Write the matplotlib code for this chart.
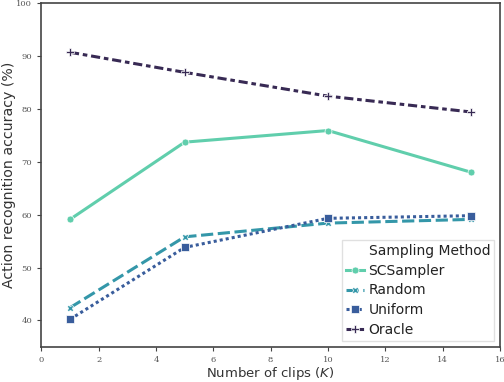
import matplotlib
matplotlib.use('Agg')
import matplotlib.pyplot as plt
from matplotlib.lines import Line2D
import seaborn as sns

clips = [1, 5, 10, 15]
methods = ['SCSampler', 'Random', 'Uniform', 'Oracle']
acc = {
    'SCSampler': [59.1, 73.7, 75.9, 68.0],
    'Random': [42.4, 55.8, 58.4, 59.1],
    'Uniform': [40.2, 53.8, 59.3, 59.8],
    'Oracle': [90.7, 86.9, 82.4, 79.4],
}
xticks = [0, 2, 4, 6, 8, 10, 12, 14, 16]
yticks = [40, 50, 60, 70, 80, 90, 100]

colors = sns.color_palette('mako_r', 4)
dashes = [None, (4, 1.5), (1, 1), (3, 1.25, 1.5, 1.25)]
markers = ['o', 'X', 's', 'P']
msizes = [5, 5, 6, 6]

fig = plt.figure(figsize=(5.04, 3.82), dpi=100)
ax = fig.add_axes([0.082, 0.092, 0.91, 0.9])

handles = [Line2D([], [], linestyle='none', label='Sampling Method')]
for m, c, d, mk, ms in zip(methods, colors, dashes, markers, msizes):
    ln, = ax.plot(clips, acc[m], color=c, lw=2.2, marker=mk, markersize=ms,
                  markeredgecolor='white', markeredgewidth=0.5, label=m)
    if d is not None:
        ln.set_dashes(d)
    handles.append(ln)

ax.set_xlim(0, 16)
ax.set_ylim(35, 100)
ax.set_xticks(xticks)
ax.set_yticks(yticks)
ax.set_xticklabels([str(v) for v in xticks], family='DejaVu Serif', fontsize=6, color='#555555')
ax.set_yticklabels([str(v) for v in yticks], family='DejaVu Serif', fontsize=6, color='#555555')
ax.tick_params(length=3, width=0.8, color='#444444')
for s in ax.spines.values():
    s.set_color('#444444')
    s.set_linewidth(1.2)

ax.set_xlabel('Number of clips ($K$)', fontsize=9.5, color='#333333', labelpad=1)
ax.set_ylabel('Action recognition accuracy (%)', fontsize=10.2, color='#333333', labelpad=0.5)

leg = ax.legend(handles=handles, loc='lower right', fontsize=10, handlelength=1.3,
                handletextpad=0.3, labelspacing=0.42, borderpad=0.3,
                borderaxespad=0.4, fancybox=False, framealpha=0.9)
leg.get_frame().set_edgecolor('#dddddd')
for t in leg.get_texts():
    t.set_color('#222222')

fig.savefig('out.png', dpi=100)
